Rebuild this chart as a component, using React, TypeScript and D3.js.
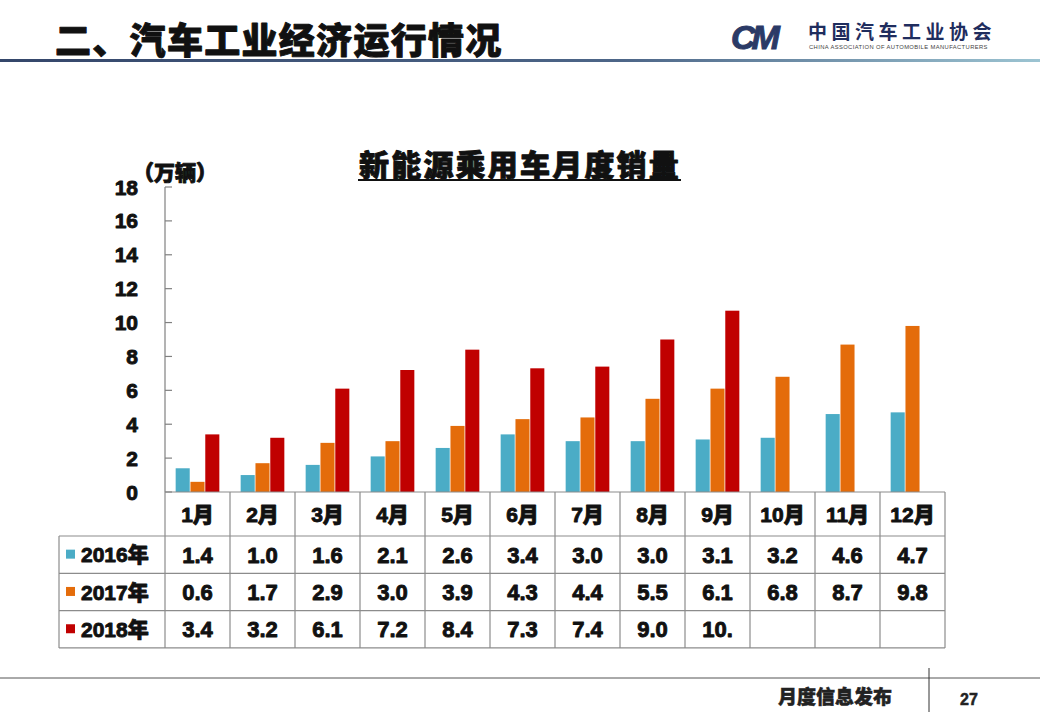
import React from "react";
import * as d3 from "d3";

const months = ["1月", "2月", "3月", "4月", "5月", "6月", "7月", "8月", "9月", "10月", "11月", "12月"];
const seriesNames = ["2016年", "2017年", "2018年"];
const sales2016 = [1.4, 1.0, 1.6, 2.1, 2.6, 3.4, 3.0, 3.0, 3.1, 3.2, 4.6, 4.7];
const sales2017 = [0.6, 1.7, 2.9, 3.0, 3.9, 4.3, 4.4, 5.5, 6.1, 6.8, 8.7, 9.8];
const sales2018 = [3.4, 3.2, 6.1, 7.2, 8.4, 7.3, 7.4, 9.0, 10.7];
const yTicks = [0, 2, 4, 6, 8, 10, 12, 14, 16, 18];
const colors = ["#4BACC6", "#E46C0A", "#C00000"];

const W = 1040;
const H = 720;
const plot = { left: 165, right: 945, top: 187, bottom: 492 };
const table = { left: 59, headerBottom: 536, rowH: 37.3 };

const NUM_FONT = "'Liberation Sans', Arial, 'Noto Sans CJK SC', sans-serif";
const CJK_FONT = "'Noto Sans CJK SC', 'Liberation Sans', sans-serif";

// heavier look for the black text (source slide uses a black-weight face)
const heavy = { stroke: "#111", strokeWidth: 0.9, strokeLinejoin: "round" as const };

export default function App() {
  const series = [sales2016, sales2017, sales2018];

  const x = d3.scaleBand<string>().domain(months).range([plot.left, plot.right]).padding(0);
  const inner = d3
    .scaleBand<string>()
    .domain(seriesNames)
    .range([0, x.bandwidth()])
    .paddingInner(0.05)
    .paddingOuter(0.72);
  const y = d3.scaleLinear().domain([0, 18]).range([plot.bottom, plot.top]);

  const rowTop = (i: number) => table.headerBottom + i * table.rowH;
  const tableBottom = rowTop(3);
  const colEdges = months.map((m) => x(m) as number).concat([plot.right]);

  return (
    <svg
      width={W}
      height={H}
      viewBox={`0 0 ${W} ${H}`}
      style={{ position: "absolute", left: 0, top: 0, background: "#fff" }}
    >
      <defs>
        <linearGradient id="hdr" x1="0" x2="1" y1="0" y2="0">
          <stop offset="0" stopColor="#34466a" />
          <stop offset="0.6" stopColor="#4d6688" />
          <stop offset="1" stopColor="#9cc4d2" />
        </linearGradient>
      </defs>

      {/* header */}
      <text x={55} y={54} fontFamily={CJK_FONT} fontWeight={900} fontSize={36} letterSpacing={1.3} fill="#111" {...heavy}>
        二、汽车工业经济运行情况
      </text>
      <rect x={0} y={59} width={W} height={3} fill="url(#hdr)" />

      {/* logo */}
      <text x={731} y={49} fontFamily={NUM_FONT} fontWeight={900} fontStyle="italic" fontSize={34} fill="#2b3a66" letterSpacing={-4} stroke="#2b3a66" strokeWidth={1}>
        CM
      </text>
      <text x={808} y={39} fontFamily={CJK_FONT} fontWeight={700} fontSize={19} fill="#1f2d5e" letterSpacing={4.5}>
        中国汽车工业协会
      </text>
      <text x={809} y={49} fontFamily={NUM_FONT} fontSize={5.8} fill="#444" letterSpacing={0.4}>
        CHINA ASSOCIATION OF AUTOMOBILE MANUFACTURERS
      </text>

      {/* chart title */}
      <text x={520} y={176} textAnchor="middle" fontFamily={CJK_FONT} fontWeight={900} fontSize={30} letterSpacing={2.2} fill="#111" {...heavy}>
        新能源乘用车月度销量
      </text>
      <line x1={358} x2={681} y1={180} y2={180} stroke="#111" strokeWidth={2} />

      {/* unit */}
      <text x={133} y={180} fontFamily={CJK_FONT} fontWeight={900} fontSize={21} fill="#111" {...heavy}>
        （万辆）
      </text>

      {/* y axis */}
      <line x1={plot.left} x2={plot.left} y1={plot.top} y2={plot.bottom} stroke="#808080" strokeWidth={1.2} />
      {yTicks.map((t) => (
        <g key={t}>
          <line x1={plot.left} x2={plot.left + 7} y1={y(t)} y2={y(t)} stroke="#808080" strokeWidth={1.2} />
          <text
            x={138}
            y={y(t)}
            dy="0.36em"
            textAnchor="end"
            fontFamily={NUM_FONT}
            fontWeight={700}
            fontSize={21}
            fill="#111"
            {...heavy}
          >
            {t}
          </text>
        </g>
      ))}

      {/* bars */}
      {series.map((vals, si) =>
        vals.map((v, mi) => (
          <rect
            key={`${si}-${mi}`}
            x={(x(months[mi]) as number) + (inner(seriesNames[si]) as number)}
            y={y(v)}
            width={inner.bandwidth()}
            height={y(0) - y(v)}
            fill={colors[si]}
          />
        ))
      )}

      {/* data table */}
      <g stroke="#8c8c8c" strokeWidth={1.2}>
        <line x1={plot.left} x2={plot.right} y1={plot.bottom} y2={plot.bottom} />
        {[0, 1, 2, 3].map((i) => (
          <line key={i} x1={table.left} x2={plot.right} y1={rowTop(i)} y2={rowTop(i)} />
        ))}
        <line x1={table.left} x2={table.left} y1={rowTop(0)} y2={tableBottom} />
        {colEdges.map((cx, i) => (
          <line key={i} x1={cx} x2={cx} y1={plot.bottom} y2={tableBottom} />
        ))}
      </g>

      {months.map((m) => (
        <text
          key={m}
          x={(x(m) as number) + x.bandwidth() / 2}
          y={(plot.bottom + table.headerBottom) / 2}
          dy="0.36em"
          textAnchor="middle"
          fontFamily={NUM_FONT}
          fontWeight={900}
          fontSize={21}
          fill="#111"
          {...heavy}
        >
          {m}
        </text>
      ))}

      {series.map((vals, si) => (
        <g key={si}>
          <rect x={66} y={rowTop(si) + table.rowH / 2 - 5} width={9} height={9} fill={colors[si]} />
          <text
            x={81}
            y={rowTop(si) + table.rowH / 2}
            dy="0.36em"
            fontFamily={NUM_FONT}
            fontWeight={900}
            fontSize={21}
            fill="#111"
            {...heavy}
          >
            {seriesNames[si]}
          </text>
          {vals.map((v, mi) => (
            <text
              key={mi}
              x={(x(months[mi]) as number) + x.bandwidth() / 2}
              y={rowTop(si) + table.rowH / 2}
              dy="0.36em"
              textAnchor="middle"
              fontFamily={NUM_FONT}
              fontWeight={900}
              fontSize={22}
              fill="#111"
              {...heavy}
            >
              {v.toFixed(1).slice(0, 3)}
            </text>
          ))}
        </g>
      ))}

      {/* footer */}
      <line x1={0} x2={W} y1={678} y2={678} stroke="#555" strokeWidth={1} />
      <text x={778} y={704} fontFamily={CJK_FONT} fontWeight={900} fontSize={19} fill="#222" stroke="#222" strokeWidth={0.5}>
        月度信息发布
      </text>
      <line x1={929} x2={929} y1={668} y2={712} stroke="#333" strokeWidth={1} />
      <text x={960} y={705} fontFamily={NUM_FONT} fontWeight={900} fontSize={16} fill="#222" stroke="#222" strokeWidth={0.5}>
        27
      </text>
    </svg>
  );
}
